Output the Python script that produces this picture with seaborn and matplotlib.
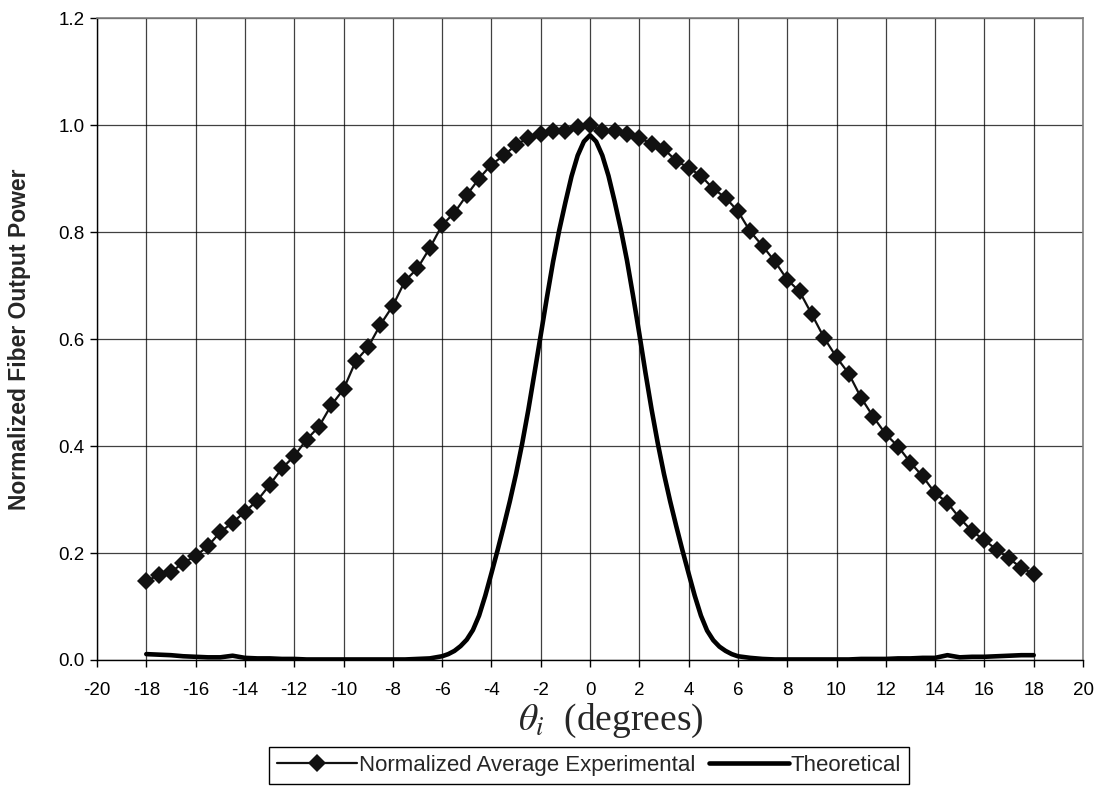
import numpy as np
import pandas as pd
import matplotlib
matplotlib.use("Agg")
import matplotlib.pyplot as plt
import seaborn as sns

# ---------------- data ----------------
exp_x = np.arange(-18.0, 18.01, 0.5)
exp_y = [0.147, 0.159, 0.164, 0.182, 0.194, 0.213, 0.239, 0.257, 0.277, 0.298,
         0.327, 0.358, 0.381, 0.412, 0.436, 0.476, 0.506, 0.559, 0.585, 0.627,
         0.662, 0.709, 0.732, 0.770, 0.813, 0.836, 0.869, 0.900, 0.926, 0.943,
         0.963, 0.976, 0.983, 0.988, 0.988, 0.997,
         1.000,
         0.988, 0.988, 0.983, 0.976, 0.965, 0.955, 0.933, 0.920, 0.905, 0.881,
         0.864, 0.839, 0.801, 0.774, 0.745, 0.711, 0.689, 0.646, 0.602, 0.566,
         0.535, 0.490, 0.454, 0.422, 0.399, 0.369, 0.343, 0.312, 0.294, 0.265,
         0.241, 0.224, 0.206, 0.190, 0.172, 0.161]

theo_x = np.concatenate([np.arange(-18.0, -6.49, 0.5),
                         np.arange(-6.0, 6.01, 0.25),
                         np.arange(6.5, 18.01, 0.5)])
theo_y = [0.011, 0.010, 0.009, 0.007, 0.006, 0.005, 0.005, 0.008, 0.004, 0.003,
          0.003, 0.002, 0.002, 0.001, 0.001, 0.001, 0.001, 0.001, 0.001, 0.001,
          0.001, 0.001, 0.002, 0.003,
          0.007, 0.011, 0.017, 0.026, 0.038, 0.056, 0.083, 0.120, 0.162, 0.205,
          0.250, 0.297, 0.348, 0.405, 0.468, 0.537, 0.607, 0.677, 0.744, 0.803,
          0.855, 0.904, 0.943, 0.969,
          0.981,
          0.969, 0.943, 0.905, 0.857, 0.805, 0.747, 0.680, 0.610, 0.537, 0.468,
          0.405, 0.348, 0.297, 0.250, 0.205, 0.162, 0.120, 0.083, 0.055, 0.037,
          0.025, 0.017, 0.011, 0.007,
          0.004, 0.002, 0.001, 0.001, 0.001, 0.001, 0.001, 0.001, 0.001, 0.002,
          0.002, 0.002, 0.003, 0.003, 0.004, 0.004, 0.009, 0.005, 0.006, 0.006,
          0.007, 0.008, 0.009, 0.009]

x_ticks = list(range(-20, 21, 2))
y_ticks = [0.0, 0.2, 0.4, 0.6, 0.8, 1.0, 1.2]
label_exp = "Normalized Average Experimental"
label_theo = "Theoretical"
y_label = "Normalized Fiber Output Power"
x_label = r"$\theta_i$  (degrees)"

# ---------------- style ----------------
sns.set_style("ticks")
plt.rcParams["font.family"] = ["Liberation Sans", "DejaVu Sans"]
plt.rcParams["mathtext.fontset"] = "stix"

fig = plt.figure(figsize=(11.01, 7.89), dpi=100)
ax = fig.add_axes([97 / 1101, 1 - 660 / 789, (1083 - 97) / 1101, (660 - 18) / 789])

df_exp = pd.DataFrame({"x": exp_x, "y": exp_y})
df_theo = pd.DataFrame({"x": theo_x, "y": theo_y})

sns.lineplot(data=df_theo, x="x", y="y", ax=ax, color="black", linewidth=3.3,
             label=label_theo, zorder=3, solid_joinstyle="round",
             solid_capstyle="round")
sns.lineplot(data=df_exp, x="x", y="y", ax=ax, color="#111111", linewidth=1.6,
             marker="D", markersize=9, markeredgewidth=0,
             markerfacecolor="#111111", label=label_exp, zorder=4)

ax.set_xlim(-20, 20)
ax.set_ylim(0, 1.2)
ax.set_xticks(x_ticks)
ax.set_yticks(y_ticks)
ax.set_xticklabels([str(t) for t in x_ticks])
ax.set_yticklabels([f"{t:.1f}" for t in y_ticks])
ax.tick_params(axis="both", direction="out", length=5, width=1, color="black",
               labelsize=13.5, labelcolor="black", pad=4)
ax.tick_params(axis="x", pad=11)

ax.grid(True, color="black", linewidth=0.9, alpha=0.75)
ax.set_axisbelow(True)

for side in ["left", "bottom"]:
    ax.spines[side].set_color("black")
    ax.spines[side].set_linewidth(1.0)
for side in ["top", "right"]:
    ax.spines[side].set_visible(True)
    ax.spines[side].set_color("#808080")
    ax.spines[side].set_linewidth(1.2)

ax.set_ylabel(y_label, fontsize=16.5, fontweight="bold", va="center")
ax.yaxis.set_label_coords((20 - 97) / 986, 0.5)
ax.set_xlabel(x_label, fontsize=27, family=["Liberation Serif", "DejaVu Serif"],
              va="center")
ax.xaxis.set_label_coords((611 - 97) / 986, -(721 - 660) / 642)

handles, labels = ax.get_legend_handles_labels()
order = [labels.index(label_exp), labels.index(label_theo)]
ax.legend([handles[i] for i in order], [labels[i] for i in order],
          loc="upper center", bbox_to_anchor=(589 / 1101, 1 - 747 / 789),
          bbox_transform=fig.transFigure, ncol=2, frameon=True,
          fancybox=False, framealpha=1, edgecolor="black", fontsize=16,
          handlelength=3.6, handletextpad=0.1, columnspacing=0.6,
          borderpad=0.35, borderaxespad=0)
ax.get_legend().get_frame().set_linewidth(1.0)

fig.savefig("out.png", dpi=100)
